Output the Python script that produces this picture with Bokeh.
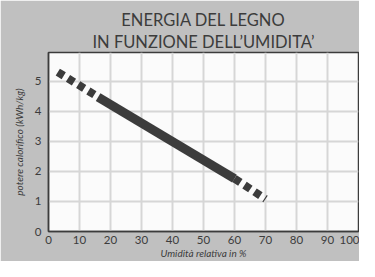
from bokeh.plotting import figure
from bokeh.models import Range1d, FixedTicker, Title
from bokeh.embed import file_html
from bokeh.resources import INLINE

# ---- data ----
title_lines = ["ENERGIA DEL LEGNO", "IN FUNZIONE DELL\u2019UMIDITA\u2019"]
x_title = "Umidità relativa in %"
y_title = "potere calorifico (kWh/kg)"
x_ticks = [0, 10, 20, 30, 40, 50, 60, 70, 80, 90, 100]
y_ticks = [0, 1, 2, 3, 4, 5]

# energy curve: dashed (extrapolated) – solid – dashed
dash_start_x = [3, 16]
dash_start_y = [5.3, 4.47]
solid_x = [16, 60]
solid_y = [4.47, 1.76]
dash_end_x = [60, 70]
dash_end_y = [1.76, 1.08]

GRAY = "#c0c0c0"
INK = "#3c3c3c"
FONT = "Lato"

p = figure(width=359, height=261, output_backend="svg", toolbar_location=None,
           x_range=Range1d(0, 100), y_range=Range1d(0, 5.95),
           min_border_left=48, min_border_right=1, min_border_top=52,
           min_border_bottom=28)
p.title.visible = False
p.background_fill_color = "#fbfbfb"
p.border_fill_color = GRAY
p.outline_line_color = INK
p.outline_line_width = 1.5

for ax in (p.xaxis, p.yaxis):
    ax.axis_line_color = INK
    ax.axis_line_width = 1.5
    ax.major_tick_line_color = None
    ax.minor_tick_line_color = None
    ax.major_tick_out = 0
    ax.major_tick_in = 0
    ax.minor_tick_out = 0
    ax.minor_tick_in = 0
    ax.major_label_text_font = FONT
    ax.major_label_text_font_size = "11.5px"
    ax.major_label_text_color = INK
    ax.axis_label_text_font = FONT
    ax.axis_label_text_font_size = "10px"
    ax.axis_label_text_font_style = "italic"
    ax.axis_label_text_color = INK

p.xaxis.ticker = FixedTicker(ticks=x_ticks)
p.yaxis.ticker = FixedTicker(ticks=y_ticks)
p.xaxis.axis_label = x_title
p.yaxis.axis_label = y_title
p.xaxis.major_label_standoff = 4
p.xaxis.axis_label_standoff = 0
p.yaxis.major_label_standoff = 7
p.yaxis.axis_label_standoff = 7

p.xgrid.ticker = FixedTicker(ticks=x_ticks)
p.ygrid.ticker = FixedTicker(ticks=y_ticks)
for g in (p.xgrid, p.ygrid):
    g.grid_line_color = "#d6d6d6"
    g.grid_line_width = 2

p.line(dash_start_x, dash_start_y, line_color=INK, line_width=8,
       line_dash="7 5", line_cap="butt")
p.line(solid_x, solid_y, line_color=INK, line_width=9, line_cap="butt")
p.line(dash_end_x, dash_end_y, line_color=INK, line_width=8,
       line_dash="7 5", line_cap="butt")

# two-line title, stacked above the frame (later = further out)
p.add_layout(Title(text=title_lines[1], align="center", text_font=FONT,
                   text_font_size="16.5px", text_font_style="normal",
                   text_color=INK, standoff=1), "above")
p.add_layout(Title(text=title_lines[0], align="center", text_font=FONT,
                   text_font_size="16.5px", text_font_style="normal",
                   text_color=INK, standoff=0), "above")

open("out.html", "w").write(file_html(p, INLINE))
